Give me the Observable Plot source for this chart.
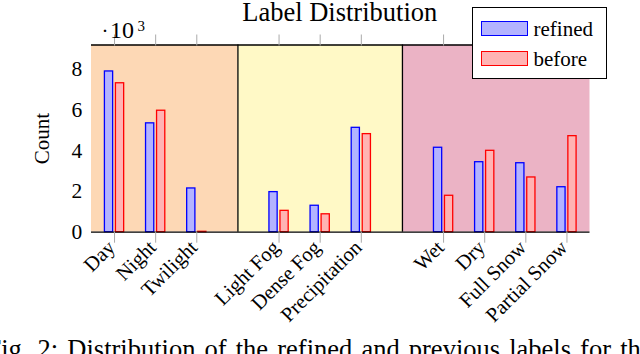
<!DOCTYPE html>
<html>
<head>
<meta charset="utf-8">
<script src="https://cdn.jsdelivr.net/npm/d3@7"></script>
<script src="https://cdn.jsdelivr.net/npm/@observablehq/plot@0.6"></script>
<style>
  html, body { margin: 0; padding: 0; background: white; overflow: hidden; }
  #wrap { position: relative; width: 640px; height: 354px; overflow: hidden; font-family: "Liberation Serif", serif; }
  #wrap svg text { font-family: "Liberation Serif", serif; }
  #legend { position: absolute; left: 471.5px; top: 7px; width: 135px; height: 71.5px; background: white; border: 1px solid #000; box-sizing: border-box; }
  .sw { position: absolute; left: 8px; width: 47px; height: 15px; box-sizing: border-box; border: 1.2px solid; }
  .lt { position: absolute; left: 61px; font-size: 21px; line-height: 21px; color: #000; font-family: "Liberation Serif", serif; }
</style>
</head>
<body>
<div id="wrap"></div>
<script>
// ---- data ----
const categories = ["Day", "Night", "Twilight", "Light Fog", "Dense Fog", "Precipitation", "Wet", "Dry", "Full Snow", "Partial Snow"];
const groupOf = [0, 0, 0, 1, 1, 1, 2, 2, 2, 2];
const refined = [7.9, 5.35, 2.15, 1.97, 1.30, 5.13, 4.15, 3.44, 3.39, 2.21];
const before  = [7.32, 5.97, 0.02, 1.05, 0.88, 4.82, 1.79, 4.00, 2.69, 4.72];
const seriesNames = ["refined", "before"];
const groupColors = ["#fdd8b5", "#fff9c6", "#ebb3c5"];
const yTicks = [0, 2, 4, 6, 8];
const titleText = "Label Distribution";
const yLabel = "Count";
const captionText = "Fig. 2: Distribution of the refined and previous labels for the";

// ---- derived ----
const FF = "Liberation Serif";
const pos = categories.map((c, i) => i + groupOf[i]);
const groupSpans = groupColors.map((col, g) => {
  const ps = pos.filter((p, i) => groupOf[i] === g);
  return {g, x1: d3.min(ps) - 1, x2: d3.max(ps) + 1, col};
});
const separators = groupSpans.slice(1).map(s => s.x1);
const rows = categories.flatMap((c, i) => [
  {c, p: pos[i], v: refined[i], s: "refined"},
  {c, p: pos[i], v: before[i], s: "before"}
]);
const fillOf = {refined: "#b3b3ff", before: "#ffb3b3"};
const strokeOf = {refined: "#0000ff", before: "#ff0000"};
const off = {refined: [-0.234, -0.034], before: [0.034, 0.234]};
const yMax = 9.2;

const chart = Plot.plot({
  width: 640,
  height: 354,
  marginLeft: 91,
  marginRight: 50.5,
  marginTop: 44.5,
  marginBottom: 122.3,
  style: {fontFamily: FF, fontSize: "21px", color: "#000", overflow: "visible"},
  x: {type: "linear", domain: [-0.56, 11.56], axis: null},
  y: {domain: [0, yMax], axis: null},
  marks: [
    Plot.rect(groupSpans, {x1: "x1", x2: "x2", y1: 0, y2: yMax, fill: d => d.col, clip: true}),
    Plot.rect(rows, {
      x1: d => d.p + off[d.s][0], x2: d => d.p + off[d.s][1],
      y1: 0, y2: "v",
      fill: d => fillOf[d.s], stroke: d => strokeOf[d.s], strokeWidth: 1.3
    }),
    Plot.ruleX(separators, {stroke: "#000", strokeWidth: 1.3}),
    Plot.ruleY([0, yMax], {stroke: "#000", strokeWidth: 1.3}),
    Plot.axisX({anchor: "bottom", ticks: pos, tickSize: 11, tickFormat: () => "", stroke: "#aaa", label: null}),
    Plot.axisX({anchor: "top", ticks: pos, tickSize: 11, tickFormat: () => "", stroke: "#aaa", label: null}),
    Plot.axisY({anchor: "left", ticks: yTicks, tickSize: 0, tickPadding: 9.3, label: null, fontSize: 21.5, fontFamily: FF}),
    Plot.text(categories, {x: pos, frameAnchor: "bottom", rotate: -45, textAnchor: "end", lineAnchor: "middle", dy: 12, dx: -3, fontSize: 20.5, fontFamily: FF}),
    Plot.text([yLabel], {frameAnchor: "left", dx: -49.5, rotate: -90, textAnchor: "middle", lineAnchor: "middle", fontSize: 21, fontFamily: FF}),
    Plot.text([titleText], {frameAnchor: "top", dx: -1, dy: -24, lineAnchor: "bottom", fontSize: 26.5, fontFamily: FF}),
    Plot.text(["·"], {frameAnchor: "top-left", dx: 13.5, dy: -7.5, lineAnchor: "bottom", textAnchor: "middle", fontSize: 21, fontFamily: FF}),
    Plot.text(["10"], {frameAnchor: "top-left", dx: 18.5, dy: -7.5, lineAnchor: "bottom", textAnchor: "start", fontSize: 24, fontFamily: FF}),
    Plot.text(["3"], {frameAnchor: "top-left", dx: 46, dy: -14.5, lineAnchor: "bottom", textAnchor: "start", fontSize: 15, fontFamily: FF}),
    Plot.text([captionText], {frameAnchor: "bottom-left", dx: -105, dy: 125.8, lineAnchor: "bottom", textAnchor: "start", fontSize: 26.5, fontFamily: FF})
  ]
});
const wrap = document.getElementById("wrap");
wrap.appendChild(chart);
// justified caption spacing
d3.select(chart).selectAll("text").filter(function() { return this.textContent === captionText; })
  .style("word-spacing", "2.5px");

// legend overlay
const legend = document.createElement("div");
legend.id = "legend";
const swTop = [13, 42.5];
const txtTop = [11, 40.5];
seriesNames.forEach((s, i) => {
  const sw = document.createElement("div");
  sw.className = "sw";
  sw.style.top = swTop[i] + "px";
  sw.style.background = fillOf[s];
  sw.style.borderColor = strokeOf[s];
  legend.appendChild(sw);
  const t = document.createElement("div");
  t.className = "lt";
  t.style.top = txtTop[i] + "px";
  t.textContent = s;
  legend.appendChild(t);
});
wrap.appendChild(legend);
</script>
</body>
</html>
